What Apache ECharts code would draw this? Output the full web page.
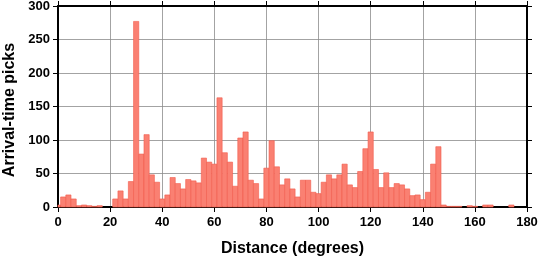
<!DOCTYPE html>
<html>
<head>
<meta charset="utf-8">
<script src="https://cdn.jsdelivr.net/npm/echarts@6/dist/echarts.min.js"></script>
<style>
html,body{margin:0;padding:0;background:#fff;}
#chart{width:539px;height:258px;}
</style>
</head>
<body>
<div id="chart"></div>
<script>
// Bin centres (degrees), 2-degree bins
var binCenters = [0,2,4,6,8,10,12,14,16,18,20,22,24,26,28,30,32,34,36,38,40,42,44,46,48,50,52,54,56,58,60,62,64,66,68,70,72,74,76,78,80,82,84,86,88,90,92,94,96,98,100,102,104,106,108,110,112,114,116,118,120,122,124,126,128,130,132,134,136,138,140,142,144,146,148,150,152,154,156,158,160,162,164,166,168,170,172,174,176,178,180];
// Arrival-time picks per bin
var picks = [3,15,18,12,2,3,2,1,2,0,0,12,24,12,38,277,79,108,48,37,12,18,44,35,27,41,39,36,73,67,64,163,81,67,31,103,112,40,35,12,58,99,60,33,42,27,15,40,40,22,20,37,48,42,48,64,33,29,53,87,112,56,29,51,29,35,33,27,17,18,11,22,64,90,3,1,1,1,0,2,1,0,3,3,0,0,0,3,0,0,0];
var xTicks = [0,20,40,60,80,100,120,140,160,180];
var yTicks = [0,50,100,150,200,250,300];
var xTitle = 'Distance (degrees)';
var yTitle = 'Arrival-time picks';
var binWidth = 2;

var data = binCenters.map(function(c, i){ return [c, picks[i]]; });
var FONT = '"Liberation Sans", Arial, Helvetica, sans-serif';

function renderItem(params, api) {
  var c = api.value(0), v = api.value(1);
  if (!v) return null;
  var p0 = api.coord([c - binWidth / 2, v]);
  var p1 = api.coord([c + binWidth / 2, 0]);
  var cs = params.coordSys;
  var shape = echarts.graphic.clipRectByRect(
    {x: p0[0], y: p0[1], width: p1[0] - p0[0], height: p1[1] - p0[1]},
    {x: cs.x, y: cs.y, width: cs.width, height: cs.height});
  if (!shape) return null;
  return {type: 'rect', shape: shape,
    style: {fill: '#fa8072', stroke: '#f25a4c', lineWidth: 0.6}};
}

function mkAxis(extra) {
  var a = {
    type: 'value', min: 0,
    axisLine: {show: true, onZero: false, lineStyle: {color: '#000', width: 2}},
    axisTick: {show: true, inside: false, length: 5, lineStyle: {color: '#000', width: 1}},
    axisLabel: {show: false},
    splitLine: {show: false}
  };
  for (var k in extra) a[k] = extra[k];
  return a;
}

var chart = echarts.init(document.getElementById('chart'), null, {renderer: 'canvas'});
chart.setOption({
  animation: false,
  backgroundColor: '#fff',
  grid: {left: 58, right: 12, top: 6, bottom: 51, containLabel: false, outerBoundsMode: 'none'},
  xAxis: [
    mkAxis({
      position: 'bottom', max: 180, interval: 20,
      axisLabel: {show: true, margin: 9, fontFamily: FONT, fontWeight: 'bold', fontSize: 13, color: '#000',
        formatter: function(v){ return xTicks.indexOf(v) >= 0 ? String(v) : ''; }},
      splitLine: {show: true, lineStyle: {color: '#8c8c8c', width: 0.8}},
      name: xTitle, nameLocation: 'middle', nameGap: 34,
      nameTextStyle: {fontFamily: FONT, fontWeight: 'bold', fontSize: 16, color: '#000'}
    }),
    mkAxis({position: 'top', max: 180, interval: 20})
  ],
  yAxis: [
    mkAxis({
      position: 'left', max: 300, interval: 50,
      axisLabel: {show: true, margin: 8, fontFamily: FONT, fontWeight: 'bold', fontSize: 13, color: '#000',
        formatter: function(v){ return yTicks.indexOf(v) >= 0 ? String(v) : ''; }},
      splitLine: {show: true, lineStyle: {color: '#8c8c8c', width: 0.8}},
      name: yTitle, nameLocation: 'middle', nameGap: 36,
      nameTextStyle: {fontFamily: FONT, fontWeight: 'bold', fontSize: 16, color: '#000', padding: [0, 7, 0, 0]}
    }),
    mkAxis({position: 'right', max: 300, interval: 50})
  ],
  series: [{
    type: 'custom',
    renderItem: renderItem,
    xAxisIndex: 0, yAxisIndex: 0,
    encode: {x: 0, y: 1},
    data: data,
    z: 3
  }]
});
</script>
</body>
</html>
